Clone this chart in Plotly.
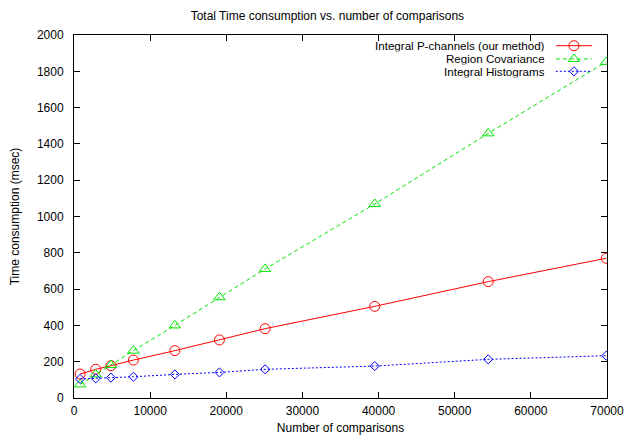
import plotly.graph_objects as go

comparisons = [800, 2850, 4850, 7800, 13250, 19100, 25100, 39500, 54400, 69900]
pchannels = [132, 158, 178, 209, 261, 320, 382, 505, 641, 770]
covariance = [75, 130, 182, 261, 400, 555, 711, 1069, 1458, 1852]
histograms = [105, 108, 112, 117, 130, 141, 158, 176, 213, 233]

series_names = ["Integral P-channels (our method)", "Region Covariance", "Integral Histograms"]
colors = ["#ff0000", "#00e600", "#0000ff"]
dashes = ["solid", "4px,3px", "2px,2px"]
symbols = ["circle-open", "triangle-up-open", "diamond-open"]
sizes = [10, 10, 7]
values = [pchannels, covariance, histograms]

font = dict(family="Liberation Sans, Arial, sans-serif", size=12, color="#000000")
key_font = dict(family="Liberation Sans, Arial, sans-serif", size=11.6, color="#000000")

fig = go.Figure()
for name, vals, c, d, s, sz in zip(series_names, values, colors, dashes, symbols, sizes):
    fig.add_trace(go.Scatter(
        x=comparisons, y=vals, name=name, mode="lines+markers",
        line=dict(color=c, width=1, dash=d),
        marker=dict(symbol=s, size=sz, color=c, line=dict(color=c, width=1)),
        hoverinfo="skip", showlegend=False,
    ))

# gnuplot-style key: text right-aligned, sample to the right
rows_y = [0.9705, 0.934, 0.900]
for name, c, d, s, sz, yy in zip(series_names, colors, dashes, symbols, sizes, rows_y):
    fig.add_trace(go.Scatter(x=[0.904, 0.972], y=[yy, yy], mode="lines",
                             line=dict(color=c, width=1, dash=d),
                             xaxis="x2", yaxis="y2", hoverinfo="skip", showlegend=False))
    fig.add_trace(go.Scatter(x=[0.938], y=[yy], mode="markers",
                             marker=dict(symbol=s, size=sz, color=c, line=dict(color=c, width=1)),
                             xaxis="x2", yaxis="y2", hoverinfo="skip", showlegend=False))
    fig.add_annotation(x=0.887, y=yy, xref="x2", yref="y2", text=name, showarrow=False,
                       xanchor="right", yanchor="middle", font=key_font, height=12.6)

axis_common = dict(showline=True, linecolor="#000000", linewidth=1, mirror="ticks",
                   ticks="inside", ticklen=6, tickcolor="#000000", showgrid=False,
                   zeroline=False, tickfont=font, automargin=False, tickformat="d")

fig.update_layout(
    width=626, height=435,
    margin=dict(l=74, r=19, t=35, b=37),
    paper_bgcolor="white", plot_bgcolor="white",
    title=dict(text="Total Time consumption vs. number of comparisons", x=0.523, xanchor="center",
               y=0.963, yanchor="middle", font=font),
    xaxis=dict(range=[0, 70000], dtick=10000, ticklabelstandoff=2,
               title=dict(text="Number of comparisons", font=font, standoff=7),
               **axis_common),
    yaxis=dict(range=[0, 2000], dtick=200, ticklabelstandoff=7,
               title=dict(text="Time consumption (msec)", font=font, standoff=14),
               **axis_common),
    xaxis2=dict(range=[0, 1], overlaying="x", visible=False),
    yaxis2=dict(range=[0, 1], overlaying="y", visible=False),
    showlegend=False,
)

fig.write_html("out.html", config={"displayModeBar": False},
               post_script="document.body.style.margin='0';document.body.style.overflow='hidden';")
